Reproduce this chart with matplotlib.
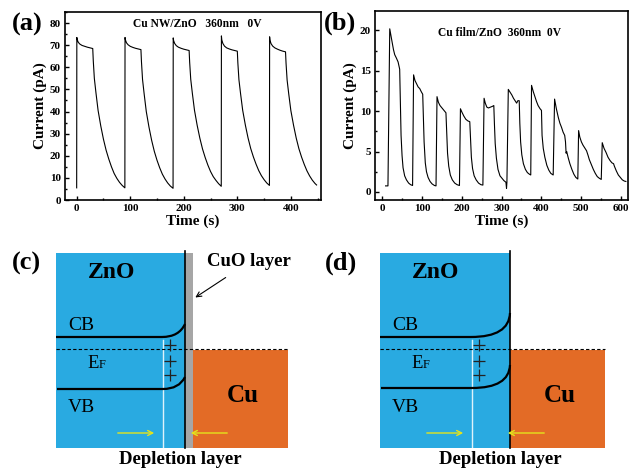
import matplotlib
matplotlib.use("Agg")
import matplotlib.pyplot as plt
from matplotlib.path import Path
from matplotlib.patches import PathPatch, Rectangle
from matplotlib.ticker import MultipleLocator

plt.rcParams['font.family'] = ['Liberation Serif', 'DejaVu Serif']
plt.rcParams['font.weight'] = 'bold'

# ---- (a) Cu NW/ZnO photoresponse ----
t_a = [0, 0.3, 1, 3, 6, 10, 15, 20, 25, 30, 31, 33, 36, 40, 45, 50, 55, 60, 65, 70, 75, 80, 85, 90,
       90.3, 91, 93, 96, 100, 105, 110, 115, 120, 121, 123, 126, 130, 135, 140, 145, 150, 155, 160, 165, 170, 175, 180,
       180.3, 181, 183, 186, 190, 195, 200, 205, 210, 211, 213, 216, 220, 225, 230, 235, 240, 245, 250, 255, 260, 265, 270,
       270.3, 271, 273, 276, 280, 285, 290, 295, 300, 301, 303, 306, 310, 315, 320, 325, 330, 335, 340, 345, 350, 355, 360,
       360.3, 361, 363, 366, 370, 375, 380, 385, 390, 391, 393, 396, 400, 405, 410, 415, 420, 425, 430, 435, 440, 445, 448]
i_a = [5.5, 73.5, 72.5, 71.3, 70.5, 69.9, 69.5, 69.1, 68.8, 68.5, 63.0, 55.0, 48.5, 40.5, 33.5, 27.5, 22.5, 18.5, 15.0, 12.0, 9.8, 8.0, 6.6, 5.5,
       73.5, 72.4, 71.1, 70.2, 69.5, 69.0, 68.6, 68.3, 68.0, 62.5, 54.5, 48.0, 40.0, 33.0, 27.0, 22.0, 18.0, 14.6, 11.7, 9.5, 7.7, 6.3, 5.3,
       73.3, 72.1, 70.8, 69.8, 69.1, 68.6, 68.2, 67.9, 67.6, 62.3, 54.6, 48.3, 40.6, 33.8, 28.0, 23.1, 19.2, 15.8, 12.9, 10.6, 8.9, 7.4, 6.2,
       74.2, 72.4, 70.8, 69.6, 68.8, 68.3, 67.9, 67.6, 67.3, 62.0, 54.4, 48.2, 40.6, 33.9, 28.1, 23.3, 19.5, 16.2, 13.3, 11.0, 9.2, 7.7, 6.6,
       73.8, 72.2, 70.7, 69.6, 68.8, 68.2, 67.7, 67.3, 67.0, 61.8, 54.2, 48.0, 40.4, 33.8, 28.0, 23.2, 19.4, 16.1, 13.2, 10.9, 9.0, 7.5, 6.8]

# ---- (b) Cu film/ZnO photoresponse ----
t_b = [8, 14, 18.5, 22, 25, 28, 31, 35, 39.5, 43.5, 45, 47, 49.5, 52, 56, 60.5, 66, 71, 76,
       78.5, 82, 86, 90, 94, 98, 101.5, 103, 105, 108, 111, 115, 120, 125, 131, 135,
       137.5, 141, 145, 150, 155, 160, 161.5, 164, 167, 171, 176, 182, 188, 194,
       196.5, 200, 205, 210, 215, 220, 221.5, 224, 227, 231, 236, 242, 248, 253,
       256, 259, 263, 267, 272, 277, 280.5, 282, 284, 287, 291, 296, 301, 306, 311, 312.5,
       313.5, 317, 322, 326, 330, 334, 338, 341, 344.5, 346, 348, 351, 355, 360, 365, 370, 373.5,
       375.5, 380, 384, 388, 392, 397, 400.5, 402, 405, 409, 414, 419, 424, 430,
       433.5, 438, 443, 447, 451, 455, 459, 461, 462.5, 464, 468, 472, 477, 482, 487, 492,
       494, 497, 501, 505, 510, 514, 518, 521, 526, 531, 536, 541, 546, 551,
       553.5, 558, 563, 568, 573, 578, 582, 584, 589, 594, 599, 604, 609, 613]
i_b = [0.75, 0.75, 20.2, 19.2, 18.4, 17.6, 17.0, 16.6, 16.1, 15.2, 11.5, 7.0, 4.5, 3.0, 2.0, 1.5, 1.1, 0.9, 0.8,
       14.5, 13.8, 13.4, 13.0, 12.8, 12.4, 12.1, 9.5, 6.2, 3.6, 2.5, 1.8, 1.3, 1.0, 0.8, 0.75,
       11.8, 11.1, 10.7, 10.4, 10.1, 9.8, 8.0, 4.8, 3.2, 2.1, 1.5, 1.1, 0.9, 0.8,
       10.3, 9.9, 9.4, 9.0, 8.8, 8.7, 7.0, 4.3, 2.9, 2.0, 1.5, 1.1, 0.9, 0.85,
       11.6, 11.0, 10.5, 10.4, 10.5, 10.6, 10.7, 8.5, 6.0, 4.2, 2.8, 2.0, 1.7, 1.4, 1.2, 0.45,
       1.2, 12.7, 12.3, 12.0, 11.6, 11.3, 11.0, 11.3, 11.3, 8.5, 6.2, 4.6, 3.5, 2.8, 2.4, 2.2, 2.1,
       13.2, 12.4, 11.8, 11.2, 10.7, 10.3, 10.1, 7.0, 5.4, 4.3, 3.3, 2.7, 2.3, 2.1,
       11.5, 10.3, 9.2, 8.5, 8.0, 7.4, 7.0, 6.2, 4.8, 5.0, 4.2, 3.5, 2.8, 2.2, 1.8, 1.6,
       7.6, 6.8, 6.2, 5.8, 5.4, 5.1, 4.5, 4.0, 3.4, 2.8, 2.3, 1.9, 1.7, 1.55,
       6.1, 5.4, 4.9, 4.3, 3.9, 3.6, 3.5, 3.2, 2.6, 2.1, 1.8, 1.5, 1.35, 1.3]

BLUE = '#29aae1'
ORANGE = '#e36b26'
GRAY = '#a6a6a6'
YELLOW = '#e4e41c'

fig = plt.figure(figsize=(6.3, 4.68), dpi=100)


def style_axes(ax):
    for s in ax.spines.values():
        s.set_linewidth(1.2)
    ax.tick_params(which='both', direction='in', width=1.0, labelsize=8, pad=3)
    ax.tick_params(which='major', length=3)
    ax.tick_params(which='minor', length=1.5)
    for lbl in ax.get_xticklabels() + ax.get_yticklabels():
        lbl.set_fontweight('bold')
    ax.set_xlabel('Time (s)', fontsize=11, fontweight='bold', labelpad=1)
    ax.set_ylabel('Current (pA)', fontsize=11, fontweight='bold', labelpad=2)


ax_a = fig.add_axes([0.103, 0.5726, 0.4063, 0.4017])
ax_a.plot(t_a, i_a, color='black', lw=0.8)
ax_a.set_xlim(-22, 456)
ax_a.set_ylim(0, 85)
ax_a.xaxis.set_major_locator(MultipleLocator(100))
ax_a.xaxis.set_minor_locator(MultipleLocator(50))
ax_a.yaxis.set_major_locator(MultipleLocator(10))
ax_a.yaxis.set_minor_locator(MultipleLocator(5))
style_axes(ax_a)
ax_a.text(0.516, 0.936, 'Cu NW/ZnO   360nm   0V', transform=ax_a.transAxes,
          ha='center', va='center', fontsize=8.3, fontweight='bold')

ax_b = fig.add_axes([0.595, 0.5726, 0.4016, 0.4038])
ax_b.plot(t_b, i_b, color='black', lw=0.8)
ax_b.set_xlim(-19, 618)
ax_b.set_ylim(-1, 22.4)
ax_b.xaxis.set_major_locator(MultipleLocator(100))
ax_b.xaxis.set_minor_locator(MultipleLocator(50))
ax_b.yaxis.set_major_locator(MultipleLocator(5))
ax_b.yaxis.set_minor_locator(MultipleLocator(2.5))
style_axes(ax_b)
ax_b.text(0.494, 0.884, 'Cu film/ZnO  360nm  0V', transform=ax_b.transAxes,
          ha='center', va='center', fontsize=8.3, fontweight='bold')

# ---- (c), (d) band diagrams, drawn in pixel coordinates ----
ov = fig.add_axes([0, 0, 1, 1])
ov.set_xlim(0, 630)
ov.set_ylim(468, 0)
ov.axis('off')
ov.patch.set_visible(False)


def bend(ax, x_start, x_bend, ctrl, x_end, y_flat, y_end):
    verts = [(x_start, y_flat), (x_bend, y_flat), (ctrl, y_flat), (x_end, y_end)]
    codes = [Path.MOVETO, Path.LINETO, Path.CURVE3, Path.CURVE3]
    ax.add_patch(PathPatch(Path(verts, codes), fill=False, lw=1.6, color='black',
                           capstyle='butt', zorder=4))


def diagram(ax, x0, x1, cuo_w, cu_right, cb, vb, dep_x, cb_end, vb_end, ctrl_dx, with_cuo):
    top, bottom, cu_top, ef_y = 253, 448, 350, 349
    ax.add_patch(Rectangle((x0, top), x1 - x0, bottom - top, color=BLUE, lw=0, zorder=1))
    if with_cuo:
        ax.add_patch(Rectangle((x1, top), cuo_w, bottom - top, color=GRAY, lw=0, zorder=1))
    ax.add_patch(Rectangle((x1 + cuo_w, cu_top), cu_right - x1 - cuo_w, bottom - cu_top,
                           color=ORANGE, lw=0, zorder=1))
    ax.plot([x1, x1], [top - 2, bottom], color='black', lw=1.2, zorder=3)
    ax.plot([dep_x, dep_x], [340, bottom], color='white', lw=1.0, alpha=0.85, zorder=2)
    ax.plot([x0, cu_right], [ef_y, ef_y], color='black', lw=0.8,
            linestyle=(0, (3, 2)), zorder=3)
    bend(ax, x0, dep_x - 1, x1 - ctrl_dx, x1, cb, cb_end)
    bend(ax, x0 + 1, dep_x, x1 - ctrl_dx, x1, vb, vb_end)
    # positive space charge in the depletion region
    ax.plot([dep_x + 7] * 3, [345, 361, 375], linestyle='none', marker='+',
            markersize=8, markeredgewidth=0.9, color='#222222', zorder=5)
    ax.text(x0 + 56, 273, 'ZnO', ha='center', va='center', fontsize=17, fontweight='bold')
    ax.text(x0 + 12, 325, 'CB', ha='left', va='center', fontsize=14, fontweight='normal')
    ax.text(x0 + 12, 408, 'VB', ha='left', va='center', fontsize=14, fontweight='normal')
    ax.text(x0 + 31, 368, 'E', ha='left', va='baseline', fontsize=13.5, fontweight='normal')
    ax.text(x0 + 43, 368, 'F', ha='left', va='baseline', fontsize=9, fontweight='normal')
    ax.text((x1 + cuo_w + cu_right) / 2 + 2, 395, 'Cu', ha='center', va='center',
            fontsize=18, fontweight='bold')
    ax.annotate('', xy=(dep_x - 6, 433), xytext=(dep_x - 48, 433),
                arrowprops=dict(arrowstyle='->', color=YELLOW, lw=1.0, mutation_scale=9))
    ax.annotate('', xy=(x1 + cuo_w - 5, 433), xytext=(x1 + cuo_w + 37, 433),
                arrowprops=dict(arrowstyle='->', color=YELLOW, lw=1.0, mutation_scale=9))
    ax.text((x0 + cu_right) / 2 + 8, 459, 'Depletion layer', ha='center', va='center',
            fontsize=13.5, fontweight='bold')


diagram(ov, 56, 185, 8, 288, 337, 389, 163, 324, 377, 6, True)
ov.text(249, 261, 'CuO layer', ha='center', va='center', fontsize=13.5, fontweight='bold')
ov.annotate('', xy=(193, 299), xytext=(228, 276),
            arrowprops=dict(arrowstyle='->', color='black', lw=0.8, mutation_scale=9))

diagram(ov, 380, 510, 0, 605, 337, 388, 472, 313, 365, 1, False)

for lab, x, y in (('(a)', 27, 24), ('(b)', 340, 23), ('(c)', 26, 263), ('(d)', 341, 263)):
    ov.text(x, y, lab, ha='center', va='center', fontsize=19, fontweight='bold')

plt.savefig('out.png', dpi=100)
